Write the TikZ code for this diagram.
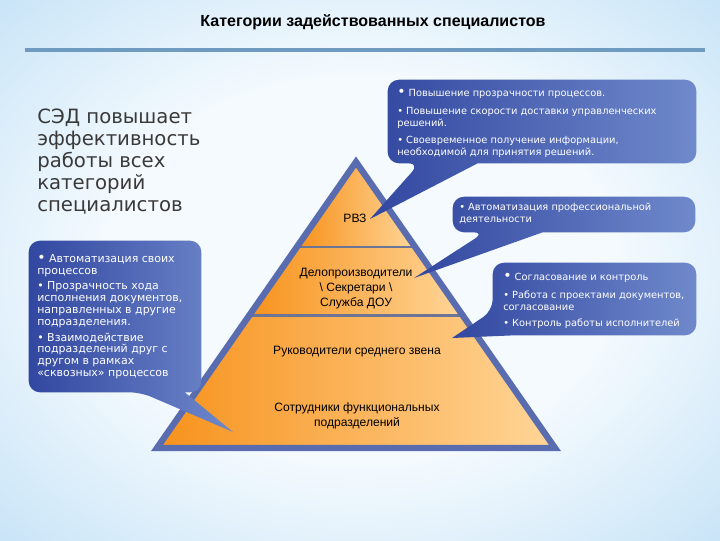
\documentclass[tikz,border=0pt]{standalone}
\usepackage{fontspec}
\setmainfont{Liberation Sans}
\newfontfamily\bubfont{DejaVu Sans}
\usetikzlibrary{calc}
\definecolor{skyin}{HTML}{F4FAFE}
\definecolor{skyout}{HTML}{A0D0F1}
\definecolor{rulecol}{HTML}{6F9BC0}
\definecolor{pyredge}{HTML}{5A6CB0}
\definecolor{pyrline}{HTML}{6C7596}
\definecolor{orL}{HTML}{F7921C}
\definecolor{orR}{HTML}{FFD699}
\definecolor{bubL}{HTML}{3247A0}
\definecolor{bubR}{HTML}{6F89CB}
\definecolor{lefttext}{HTML}{3A3A3A}
\pgfdeclareradialshading{sky}{\pgfpoint{0bp}{0bp}}{color(0bp)=(skyin); color(18bp)=(skyin); color(52bp)=(skyout); color(75bp)=(skyout)}
\tikzset{
  tier/.style={left color=orL, right color=orR},
  bubble/.style={left color=bubL, right color=bubR},
  box/.style={inner sep=0pt},
  bubtext/.style={text=white, align=left, inner sep=0pt, anchor=north west, font=\bubfont\fontsize{7}{8.5}\selectfont},
  pyrtext/.style={align=center, inner sep=1pt, font=\fontsize{8.6}{10.7}\selectfont},
}
\newcommand{\bigdot}{{\fontsize{10}{8}\selectfont •}}
\begin{document}
\begin{tikzpicture}[x=0.025cm, y=-0.025cm]
\useasboundingbox (0,0) rectangle (720,540);
\shade[shading=sky] (0,0) rectangle (720,540);
% title
\node[font=\bfseries\fontsize{11.4}{13}\selectfont] (title) at (373,22) {Категории задействованных специалистов};
\draw[rulecol, line width=2.2pt] (25,50) -- (705,50);
% pyramid
\coordinate (apex) at (356,162);
\coordinate (bl) at (157,448);
\coordinate (br) at (555,448);
\coordinate (l1) at ($(apex)!0.297!(bl)$); \coordinate (r1) at ($(apex)!0.297!(br)$);
\coordinate (l2) at ($(apex)!0.538!(bl)$); \coordinate (r2) at ($(apex)!0.538!(br)$);
\shade[tier] (apex) -- (r1) -- (l1) -- cycle;
\shade[tier] (l1) -- (r1) -- (r2) -- (l2) -- cycle;
\shade[tier] (l2) -- (r2) -- (br) -- (bl) -- cycle;
\draw[pyrline, line width=2pt] (l1) -- (r1) (l2) -- (r2);
\draw[pyredge, line width=4.5pt, line join=miter] (apex) -- (br) -- (bl) -- cycle;
\node[pyrtext] (rvz) at (355,218) {РВЗ};
\node[pyrtext] (delo) at (356,289) {Делопроизводители\\ \textbackslash{} Секретари \textbackslash{}\\ Служба ДОУ};
\node[pyrtext] (ruk) at (357,352) {Руководители среднего звена};
\node[pyrtext] (sotr) at (357,416) {Сотрудники функциональных\\ подразделений};
% left text
\node[anchor=north west, align=left, text=lefttext, inner sep=0pt, font=\bubfont\fontsize{14}{15.6}\selectfont] (sed) at (37,109) {СЭД повышает\\ эффективность\\ работы всех\\ категорий\\ специалистов};
% bubbles
\node[box, minimum width=7.7cm, minimum height=2.075cm] (boxA) at (542,121.5) {};
\node[box, minimum width=6.05cm, minimum height=0.875cm] (boxB) at (574,214.5) {};
\node[box, minimum width=5.075cm, minimum height=1.8cm] (boxC) at (594.5,299) {};
\node[box, minimum width=4.3cm, minimum height=3.775cm] (boxD) at (115,316.5) {};
\coordinate (tipA) at (370,219);
\coordinate (tipB) at (414,278);
\coordinate (tipC) at (452,338);
\coordinate (tipD) at (233,432);
\shade[bubble] ($(boxA.south west)+(32,0)$) -- (tipA) -- ($(boxA.south west)+(90,0)$) [rounded corners=8pt] -- (boxA.south east) -- (boxA.north east) -- (boxA.north west) -- (boxA.south west) -- cycle;
\shade[bubble] ($(boxB.south west)+(32,0)$) -- (tipB) -- ($(boxB.south west)+(90,0)$) [rounded corners=8pt] -- (boxB.south east) -- (boxB.north east) -- (boxB.north west) -- (boxB.south west) -- cycle;
\shade[bubble] ($(boxC.north west)+(0,48)$) -- (tipC) -- ($(boxC.south west)+(22,0)$) [rounded corners=8pt] -- (boxC.south east) -- (boxC.north east) -- (boxC.north west) -- cycle;
\shade[bubble] ($(boxD.south west)+(112,0)$) -- (tipD) -- ($(boxD.south west)+(156,0)$) [rounded corners=8pt] -- (boxD.south east) -- (boxD.north east) -- (boxD.north west) -- (boxD.south west) -- cycle;
\node[bubtext] (txtA) at (397,89) {\bigdot{} Повышение прозрачности процессов.\\[4pt] • Повышение скорости доставки управленческих\\ решений.\\[4pt] • Своевременное получение информации,\\ необходимой для принятия решений.};
\node[bubtext] (txtB) at (459,203) {• Автоматизация профессиональной\\ деятельности};
\node[bubtext] (txtC) at (503,273) {\bigdot{} Согласование и контроль\\[4pt] • Работа с проектами документов,\\ согласование\\[3pt] • Контроль работы исполнителей};
\node[bubtext, font=\bubfont\fontsize{7.8}{8.5}\selectfont] (txtD) at (37,254) {\bigdot{} Автоматизация своих\\ процессов\\[2.5pt] • Прозрачность хода\\ исполнения документов,\\ направленных в другие\\ подразделения.\\[2.5pt] • Взаимодействие\\ подразделений друг с\\ другом в рамках\\ «сквозных» процессов};
\end{tikzpicture}
\end{document}
